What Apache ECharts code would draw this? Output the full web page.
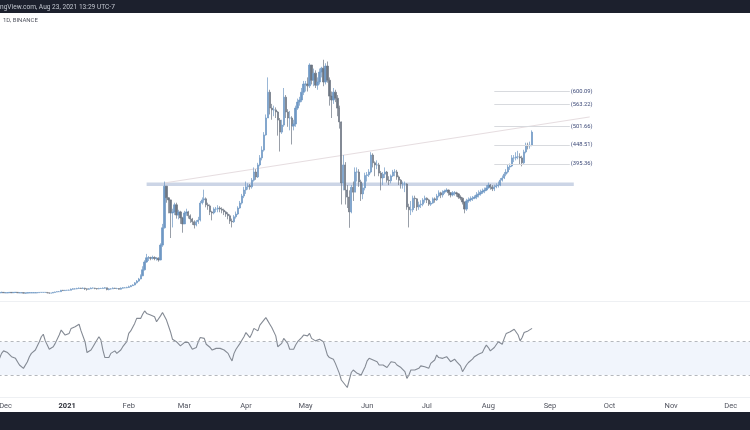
<!DOCTYPE html>
<html>
<head>
<meta charset="utf-8">
<style>
  html, body { margin: 0; padding: 0; background: #fff; }
  #chart { width: 750px; height: 430px; filter: blur(0.45px); }
</style>
<script src="https://cdn.jsdelivr.net/npm/echarts@6/dist/echarts.min.js"></script>
</head>
<body>
<div id="chart"></div>
<script>
// daily candles: Nov 28 2020 .. Aug 23 2021
const firstDay = "2020-11-28"
const dayCount = 380

const closes = [
  30, 31, 30,
  30, 30, 31, 30, 31, 31, 30, 30, 30, 29, 29, 30, 30, 30, 30, 30, 30, 31, 31, 31, 31, 30, 29, 29, 31, 32, 33, 33, 37, 36, 37,
  37, 37, 40, 41, 41, 42, 43, 42, 43, 41, 40, 41, 43, 43, 42, 41, 42, 42, 43, 44, 39, 41, 41, 43, 42, 42, 40, 43, 44, 44, 45,
  47, 50, 52, 58, 63, 69, 78, 95, 117, 129, 129, 128, 130, 127, 128, 123, 165, 214, 332, 299, 293, 256, 259, 279, 250, 259, 242, 225,
  256, 259, 248, 239, 231, 222, 231, 236, 284, 293, 296, 279, 276, 259, 256, 267, 267, 270, 267, 264, 259, 253, 248, 233, 231, 245, 253, 270, 284, 304, 321,
  330, 333, 330, 349, 372, 358, 392, 412, 434, 477, 525, 598, 553, 548, 548, 542, 519, 485, 505, 584, 542, 525, 525, 502, 508, 553, 570, 576, 598, 621,
  621, 616, 675, 632, 652, 618, 627, 655, 666, 627, 672, 632, 587, 576, 598, 581, 553, 514, 341, 392, 321, 301, 259, 329, 315, 372, 372, 344, 310, 327, 362,
  364, 372, 420, 398, 392, 392, 369, 355, 366, 372, 349, 347, 361, 372, 372, 358, 349, 338, 338, 338, 273, 265, 265, 298, 296, 273, 279, 281, 293, 298,
  293, 281, 284, 296, 293, 304, 313, 307, 315, 318, 321, 313, 307, 313, 313, 310, 301, 298, 287, 267, 290, 293, 296, 298, 301, 307, 310, 315, 318, 321, 327,
  335, 330, 324, 330, 333, 335, 349, 355, 366, 372, 386, 389, 412, 412, 415, 415, 412, 398, 429, 448, 446, 448, 485
]
const highs = [
  31, 33, 32,
  31, 31, 32, 32, 32, 32, 31, 31, 31, 31, 30, 31, 31, 31, 31, 31, 32, 32, 32, 32, 32, 32, 30, 30, 32, 33, 34, 35, 38, 38, 38,
  38, 39, 42, 43, 43, 44, 45, 44, 45, 44, 42, 43, 45, 45, 44, 43, 44, 44, 45, 46, 44, 43, 43, 45, 44, 44, 43, 45, 46, 46, 47,
  50, 52, 54, 60, 66, 72, 82, 105, 122, 140, 134, 132, 135, 133, 131, 130, 170, 225, 345, 330, 300, 285, 268, 285, 285, 265, 262, 245,
  262, 268, 262, 252, 242, 235, 236, 245, 290, 300, 322, 300, 285, 280, 262, 272, 273, 278, 275, 272, 268, 262, 258, 252, 240, 250, 260, 275, 290, 310, 330,
  345, 340, 338, 355, 385, 380, 398, 420, 445, 485, 535, 640, 605, 565, 560, 555, 545, 525, 520, 610, 590, 550, 545, 530, 520, 560, 580, 585, 610, 630,
  630, 640, 680, 675, 665, 660, 640, 665, 670, 690, 680, 685, 640, 600, 610, 605, 590, 560, 515, 420, 400, 335, 320, 335, 345, 385, 385, 380, 350, 340, 370,
  372, 380, 428, 425, 402, 405, 398, 375, 372, 385, 375, 360, 365, 378, 380, 378, 362, 352, 345, 345, 340, 282, 290, 305, 305, 298, 288, 292, 298, 305,
  300, 296, 290, 300, 300, 310, 320, 316, 320, 322, 326, 322, 315, 318, 318, 316, 312, 306, 300, 288, 296, 300, 303, 304, 306, 315, 320, 322, 325, 328, 335,
  342, 338, 335, 336, 340, 345, 355, 362, 372, 380, 392, 396, 420, 420, 428, 432, 425, 418, 435, 455, 455, 458, 490
]
const lows = [
  29, 30, 30,
  29, 29, 30, 29, 30, 30, 29, 29, 29, 28, 28, 29, 29, 29, 29, 29, 29, 30, 30, 30, 30, 28, 27, 28, 29, 31, 32, 32, 33, 35, 35,
  36, 36, 37, 39, 39, 40, 41, 41, 41, 38, 36, 39, 41, 42, 40, 39, 40, 41, 42, 42, 37, 37, 39, 41, 41, 40, 39, 39, 42, 43, 43,
  44, 46, 49, 51, 56, 61, 68, 77, 93, 115, 120, 122, 124, 122, 121, 118, 122, 160, 212, 285, 255, 185, 215, 250, 240, 238, 225, 200,
  225, 248, 240, 228, 222, 212, 218, 225, 232, 280, 285, 272, 265, 250, 235, 252, 258, 258, 258, 255, 250, 245, 238, 225, 215, 228, 240, 250, 268, 280, 298,
  310, 322, 322, 325, 345, 350, 355, 388, 405, 430, 475, 525, 535, 520, 530, 525, 475, 430, 480, 500, 525, 500, 490, 450, 490, 500, 548, 560, 570, 590,
  600, 600, 610, 620, 615, 610, 605, 620, 640, 615, 620, 625, 560, 525, 565, 570, 530, 495, 280, 320, 280, 270, 214, 255, 290, 315, 345, 330, 290, 295, 320,
  345, 358, 368, 385, 360, 380, 360, 320, 335, 355, 342, 335, 340, 358, 360, 350, 335, 325, 325, 315, 265, 215, 250, 258, 270, 262, 265, 270, 275, 285,
  284, 276, 276, 282, 285, 290, 300, 298, 300, 310, 315, 305, 300, 303, 305, 302, 296, 292, 280, 255, 262, 285, 288, 290, 295, 295, 300, 305, 310, 312, 318,
  325, 322, 318, 318, 326, 328, 332, 345, 352, 360, 368, 378, 386, 400, 405, 408, 392, 388, 395, 425, 436, 438, 445
]

// lower panel line, same days. the panel has no scale in the picture, so the numbers are relative to its two dashed levels
const oscillator = [
  50, 56, 59, 57, 57, 56, 52, 51, 50, 46, 42, 40, 38, 37, 46, 52, 56, 58, 60, 61, 70, 76, 79, 71, 66, 61, 60, 64, 68, 70,
  78, 84, 82, 78, 79, 80, 86, 87, 88, 90, 91, 83, 83, 70, 57, 56, 60, 64, 64, 72, 76, 72, 60, 51, 51, 51, 56, 58, 59, 56,
  54, 60, 64, 67, 70, 80, 83, 85, 92, 98, 96, 98, 103, 107, 104, 103, 102, 102, 100, 94, 96, 101, 105, 107, 96, 95, 82, 73, 75, 70,
  68, 65, 63, 69, 69, 69, 65, 61, 61, 63, 70, 75, 76, 74, 67, 66, 63, 60, 60, 62, 63, 62, 61, 60, 59, 56, 51, 47, 56, 61,
  62, 68, 72, 76, 81, 80, 75, 80, 86, 85, 83, 90, 93, 96, 99, 95, 91, 87, 85, 77, 64, 62, 68, 74, 75, 68, 61, 61, 61, 66,
  70, 71, 75, 78, 78, 77, 80, 74, 72, 71, 70, 73, 74, 70, 68, 54, 51, 52, 49, 44, 38, 32, 24, 21, 18, 15, 24, 33, 36, 35,
  32, 31, 30, 35, 40, 47, 50, 49, 48, 47, 46, 42, 41, 42, 41, 39, 41, 46, 47, 45, 42, 41, 39, 38, 34, 26, 30, 36, 38, 36,
  34, 38, 41, 42, 40, 39, 38, 44, 45, 48, 54, 51, 49, 50, 51, 52, 49, 46, 47, 49, 46, 45, 41, 34, 32, 42, 45, 47, 49, 52,
  54, 55, 56, 57, 62, 66, 63, 59, 61, 63, 65, 70, 69, 67, 74, 80, 81, 82, 84, 85, 87, 78, 71, 75, 81, 83, 83, 85, 86
]
const oscillatorLevels = [70, 30]

const tickDates = ["2020-12-01", "2021-01-01", "2021-02-01", "2021-03-01", "2021-04-01", "2021-05-01", "2021-06-01", "2021-07-01", "2021-08-01", "2021-09-01", "2021-10-01", "2021-11-01", "2021-12-01"]
const tickLabels = ["Dec", "2021", "Feb", "Mar", "Apr", "May", "Jun", "Jul", "Aug", "Sep", "Oct", "Nov", "Dec"]

// drawn levels
const fibLevels = [600.09, 563.22, 501.66, 448.51, 395.36]
const fibDates = ["2021-08-04", "2021-09-11"]
const bandPrice = 337
const bandDates = ["2021-02-10", "2021-09-13"]
const trendDates = ["2021-02-19", "2021-09-21"]
const trendPrices = [341, 528]

const days = []
for (let i = 0; i < dayCount; i++) {
  const d = new Date(firstDay + "T00:00:00Z")
  d.setUTCDate(d.getUTCDate() + i)
  days.push(d.toISOString().slice(0, 10))
}

const candles = closes.map((c, i) => [i === 0 ? c : closes[i - 1], c, lows[i], highs[i]])

const xLabel = (value) => {
  const idx = tickDates.indexOf(value)
  if (idx < 0) return ""
  return tickLabels[idx] === "2021" ? "{b|2021}" : tickLabels[idx]
}

const chart = echarts.init(document.getElementById("chart"))
chart.setOption({
  animation: false,
  backgroundColor: "#fff",
  grid: [
    { left: -1.4, width: 755, top: 14, height: 287, outerBoundsMode: "none" },
    { left: -1.4, width: 755, top: 301, height: 96, outerBoundsMode: "none" }
  ],
  xAxis: [
    {
      type: "category", gridIndex: 0, data: days,
      axisLine: { lineStyle: { color: "#eef0f3" } },
      axisTick: { show: false }, axisLabel: { show: false }, splitLine: { show: false }
    },
    {
      type: "category", gridIndex: 1, data: days,
      axisLine: { lineStyle: { color: "#eef0f3" } },
      axisTick: { show: false },
      splitLine: { show: false },
      axisLabel: {
        interval: (i, value) => tickDates.indexOf(value) >= 0,
        formatter: xLabel,
        hideOverlap: false,
        color: "#50535e", fontSize: 7.5, fontFamily: "Roboto", margin: 5,
        rich: { b: { color: "#2c2f38", fontSize: 7.5, fontWeight: "bold", fontFamily: "Roboto" } }
      }
    }
  ],
  yAxis: [
    { type: "value", gridIndex: 0, min: 6.6, max: 819.6, show: false },
    { type: "value", gridIndex: 1, min: 3.6, max: 118.9, show: false }
  ],
  series: [
    {
      type: "line", xAxisIndex: 0, yAxisIndex: 0, symbol: "none", silent: true, z: 1,
      data: bandDates.map((d) => [d, bandPrice]),
      lineStyle: { color: "#ccd5e6", width: 3.5 }
    },
    {
      type: "line", xAxisIndex: 0, yAxisIndex: 0, symbol: "none", silent: true, z: 1,
      data: trendDates.map((d, i) => [d, trendPrices[i]]),
      lineStyle: { color: "#e6dde0", width: 1 }
    },
    {
      type: "line", xAxisIndex: 0, yAxisIndex: 0, symbol: "none", silent: true, z: 1, data: [],
      markLine: {
        silent: true, symbol: "none", animation: false,
        lineStyle: { color: "#d8dade", width: 1, type: "solid" },
        label: {
          position: "end", distance: 1, color: "#3d4a78", fontSize: 5.8, fontFamily: "Roboto",
          formatter: (p) => "(" + p.data.level.toFixed(2) + ")"
        },
        data: fibLevels.map((lvl) => [
          { coord: [fibDates[0], lvl], level: lvl },
          { coord: [fibDates[1], lvl] }
        ])
      }
    },
    {
      type: "candlestick", xAxisIndex: 0, yAxisIndex: 0, barWidth: 1.8, z: 3,
      data: candles,
      itemStyle: {
        color: "#6f98c4", color0: "#6d7682",
        borderColor: "#6f98c4", borderColor0: "#6d7682", borderWidth: 0.7
      }
    },
    {
      type: "line", xAxisIndex: 1, yAxisIndex: 1, symbol: "none", z: 3,
      data: oscillator.map((v, i) => [days[i], v]),
      lineStyle: { color: "#848a94", width: 1.1 },
      markArea: {
        silent: true,
        itemStyle: { color: "#f1f5fc" },
        data: [[{ yAxis: oscillatorLevels[0] }, { yAxis: oscillatorLevels[1] }]]
      },
      markLine: {
        silent: true, symbol: "none", animation: false, label: { show: false },
        lineStyle: { color: "#a2a6ad", width: 0.8, type: [3, 3] },
        data: oscillatorLevels.map((v) => ({ yAxis: v }))
      }
    }
  ],
  graphic: [
    { type: "rect", shape: { x: 0, y: 0, width: 750, height: 13 }, style: { fill: "#1c202d" } },
    { type: "rect", shape: { x: 0, y: 412, width: 750, height: 18 }, style: { fill: "#1c202d" } },
    {
      type: "text", x: 0, y: 3.5,
      style: { text: "ngView.com, Aug 23, 2021 13:29 UTC-7", fill: "#c3c7d0", font: "6.6px Roboto" }
    },
    {
      type: "text", x: 3, y: 17,
      style: { text: "1D, BINANCE", fill: "#50535e", font: "6px Roboto" }
    }
  ]
})
</script>
</body>
</html>
